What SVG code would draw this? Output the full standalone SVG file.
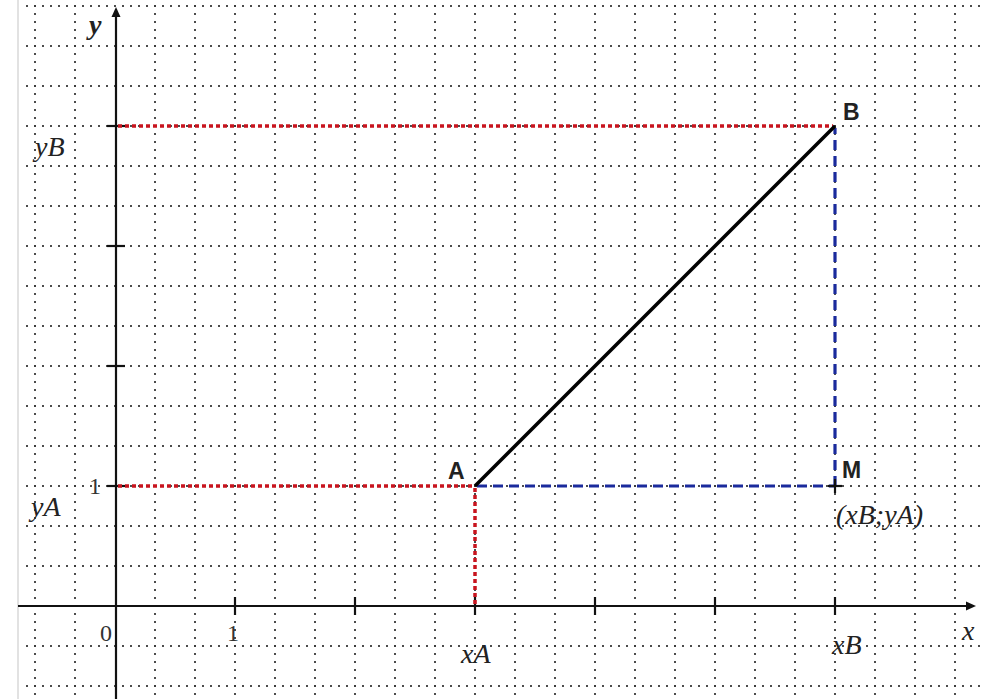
<svg xmlns="http://www.w3.org/2000/svg" width="985" height="699" viewBox="0 0 985 699">
<defs>
<style>
.gh{stroke:#3a3a3a;stroke-width:1.8;stroke-dasharray:1.8 6.2;fill:none}
.gv{stroke:#3a3a3a;stroke-width:1.8;stroke-dasharray:1.8 6.2;fill:none}
.axis{stroke:#111;stroke-width:2.2;fill:none}
.tick{stroke:#111;stroke-width:2.2}
.red{stroke:#c8141e;stroke-width:3.5;stroke-dasharray:4 3;fill:none}
.blue{stroke:#1a2a9c;stroke-width:3.2;stroke-dasharray:10 6;fill:none}
.seg{stroke:#000;stroke-width:3.5;fill:none}
.it{font-family:"Liberation Serif",serif;font-style:italic;font-size:28px;fill:#222}
.num{font-family:"Liberation Serif",serif;font-size:24px;fill:#333}
.pt{font-family:"Liberation Sans",Arial,sans-serif;font-weight:bold;font-size:23px;fill:#222}
</style>
</defs>
<rect x="0" y="0" width="985" height="699" fill="#fff"/>
<line x1="18" y1="0" x2="18" y2="699" stroke="#d8d8d8" stroke-width="1.5"/>
<g id="grid">
<g id="grid-h">
<line class="gh" x1="26.1" y1="6" x2="985" y2="6"/>
<line class="gh" x1="26.1" y1="46" x2="985" y2="46"/>
<line class="gh" x1="26.1" y1="86" x2="985" y2="86"/>
<line class="gh" x1="26.1" y1="126" x2="985" y2="126"/>
<line class="gh" x1="26.1" y1="166" x2="985" y2="166"/>
<line class="gh" x1="26.1" y1="206" x2="985" y2="206"/>
<line class="gh" x1="26.1" y1="246" x2="985" y2="246"/>
<line class="gh" x1="26.1" y1="286" x2="985" y2="286"/>
<line class="gh" x1="26.1" y1="326" x2="985" y2="326"/>
<line class="gh" x1="26.1" y1="366" x2="985" y2="366"/>
<line class="gh" x1="26.1" y1="406" x2="985" y2="406"/>
<line class="gh" x1="26.1" y1="446" x2="985" y2="446"/>
<line class="gh" x1="26.1" y1="486" x2="985" y2="486"/>
<line class="gh" x1="26.1" y1="526" x2="985" y2="526"/>
<line class="gh" x1="26.1" y1="566" x2="985" y2="566"/>
<line class="gh" x1="26.1" y1="646" x2="985" y2="646"/>
<line class="gh" x1="26.1" y1="686" x2="985" y2="686"/>
</g>
<g id="grid-v">
<line class="gv" x1="35" y1="5.1" x2="35" y2="699"/>
<line class="gv" x1="75" y1="5.1" x2="75" y2="699"/>
<line class="gv" x1="155" y1="5.1" x2="155" y2="699"/>
<line class="gv" x1="195" y1="5.1" x2="195" y2="699"/>
<line class="gv" x1="235" y1="5.1" x2="235" y2="699"/>
<line class="gv" x1="275" y1="5.1" x2="275" y2="699"/>
<line class="gv" x1="315" y1="5.1" x2="315" y2="699"/>
<line class="gv" x1="355" y1="5.1" x2="355" y2="699"/>
<line class="gv" x1="395" y1="5.1" x2="395" y2="699"/>
<line class="gv" x1="435" y1="5.1" x2="435" y2="699"/>
<line class="gv" x1="475" y1="5.1" x2="475" y2="699"/>
<line class="gv" x1="515" y1="5.1" x2="515" y2="699"/>
<line class="gv" x1="555" y1="5.1" x2="555" y2="699"/>
<line class="gv" x1="595" y1="5.1" x2="595" y2="699"/>
<line class="gv" x1="635" y1="5.1" x2="635" y2="699"/>
<line class="gv" x1="675" y1="5.1" x2="675" y2="699"/>
<line class="gv" x1="715" y1="5.1" x2="715" y2="699"/>
<line class="gv" x1="755" y1="5.1" x2="755" y2="699"/>
<line class="gv" x1="795" y1="5.1" x2="795" y2="699"/>
<line class="gv" x1="835" y1="5.1" x2="835" y2="699"/>
<line class="gv" x1="875" y1="5.1" x2="875" y2="699"/>
<line class="gv" x1="915" y1="5.1" x2="915" y2="699"/>
<line class="gv" x1="955" y1="5.1" x2="955" y2="699"/>
</g>
</g>
<g id="axes">
<line class="axis" x1="18" y1="606" x2="968" y2="606"/>
<polygon points="976,606 966,601.5 966,610.5" fill="#111"/>
<line class="axis" x1="116" y1="699" x2="116" y2="14"/>
<polygon points="116,7 111.5,17 120.5,17" fill="#111"/>
<line class="tick" x1="235" y1="597" x2="235" y2="615"/>
<line class="tick" x1="355" y1="597" x2="355" y2="615"/>
<line class="tick" x1="475" y1="597" x2="475" y2="615"/>
<line class="tick" x1="595" y1="597" x2="595" y2="615"/>
<line class="tick" x1="715" y1="597" x2="715" y2="615"/>
<line class="tick" x1="835" y1="597" x2="835" y2="615"/>
<line class="tick" x1="107" y1="126" x2="125" y2="126"/>
<line class="tick" x1="107" y1="246" x2="125" y2="246"/>
<line class="tick" x1="107" y1="366" x2="125" y2="366"/>
<line class="tick" x1="107" y1="486" x2="125" y2="486"/>
<text class="it" x="89" y="34" font-size="26" font-weight="bold">y</text>
<text class="it" x="962" y="640" font-size="26">x</text>
<text class="num" x="100" y="641">0</text>
<text class="num" x="227" y="641">1</text>
<text class="num" x="89" y="494">1</text>
</g>
<g id="connectors">
<line id="proj-yB" class="red" x1="118" y1="126" x2="833" y2="126"/>
<line id="proj-yA" class="red" x1="118" y1="486" x2="473" y2="486"/>
<line id="proj-xA" class="red" x1="475" y1="488" x2="475" y2="604"/>
<line id="AM" class="blue" x1="477" y1="486" x2="835" y2="486"/>
<line id="MB" class="blue" x1="835" y1="486" x2="835" y2="128"/>
<line id="AB" class="seg" x1="475" y1="486" x2="835" y2="126"/>
</g>
<g id="node-A">
<text class="pt" x="448" y="479">A</text>
</g>
<g id="node-B">
<text class="pt" x="843" y="120">B</text>
</g>
<g id="node-M">
<line class="tick" x1="835" y1="479" x2="835" y2="493"/>
<line class="tick" x1="828" y1="486" x2="842" y2="486"/>
<text class="pt" x="842" y="478">M</text>
<text class="it" x="836" y="524">(xB;yA)</text>
</g>
<g id="labels">
<text class="it" x="35" y="156">yB</text>
<text class="it" x="31" y="516">yA</text>
<text class="it" x="461" y="663">xA</text>
<text class="it" x="832" y="654">xB</text>
</g>
</svg>
